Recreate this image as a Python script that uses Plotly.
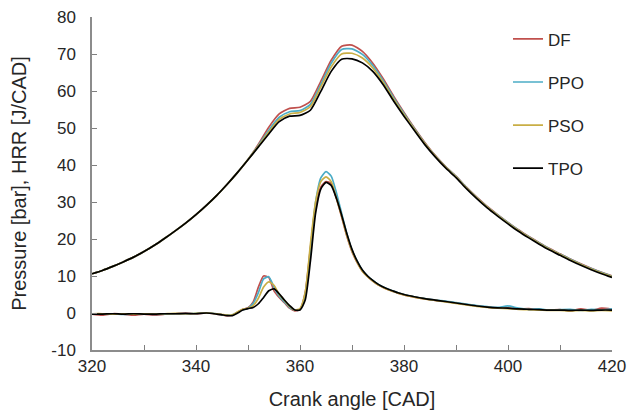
import plotly.graph_objects as go

# ---------------- data ----------------
series_names = ["DF", "PPO", "PSO", "TPO"]
series_colors = ["#C0504D", "#4BACC6", "#C9AE45", "#000000"]

# Pressure (bar) vs crank angle
p_cad = [320, 322, 324, 326, 328, 330, 332, 334, 336, 338, 340, 342, 344, 346, 348,
         350, 352, 354, 356, 358, 360, 362, 364, 366, 368, 370, 372, 374, 376, 378,
         380, 382, 384, 386, 388, 390, 392, 394, 396, 398, 400, 402, 404, 406, 408,
         410, 412, 414, 416, 418, 420]
p_df = [10.6, 11.5, 12.6, 13.8, 15.1, 16.6, 18.3, 20.2, 22.2, 24.3, 26.6, 29.1, 31.8, 34.8, 38.0,
        41.5, 45.6, 50.2, 53.8, 55.3, 55.6, 57.2, 62.6, 68.3, 72.1, 72.4, 70.7, 67.5, 63.3, 58.6,
        54.2, 50.0, 46.1, 42.6, 39.6, 37.0, 34.0, 31.3, 28.8, 26.6, 24.5, 22.5, 20.7, 19.0, 17.4,
        16.0, 14.6, 13.3, 12.1, 11.0, 10.0]
p_ppo = [10.6, 11.5, 12.6, 13.8, 15.1, 16.6, 18.3, 20.2, 22.2, 24.3, 26.6, 29.1, 31.8, 34.8, 38.0,
         41.5, 45.3, 49.4, 52.9, 54.4, 54.7, 56.4, 61.8, 67.5, 71.2, 71.4, 69.9, 66.9, 62.8, 58.2,
         53.9, 49.8, 45.9, 42.5, 39.5, 36.9, 33.9, 31.2, 28.7, 26.5, 24.4, 22.4, 20.6, 18.9, 17.3,
         15.9, 14.5, 13.2, 12.0, 10.9, 9.9]
p_pso = [10.6, 11.5, 12.6, 13.8, 15.1, 16.6, 18.3, 20.2, 22.2, 24.3, 26.6, 29.1, 31.8, 34.8, 38.0,
         41.5, 45.1, 48.9, 52.3, 53.8, 54.2, 55.8, 61.1, 66.5, 70.0, 70.2, 68.9, 66.2, 62.3, 57.8,
         53.6, 49.6, 45.8, 42.4, 39.4, 36.8, 33.8, 31.1, 28.6, 26.4, 24.3, 22.3, 20.5, 18.8, 17.2,
         15.8, 14.4, 13.1, 11.9, 10.8, 9.8]
p_tpo = [10.6, 11.5, 12.6, 13.8, 15.1, 16.6, 18.3, 20.2, 22.2, 24.3, 26.6, 29.1, 31.8, 34.8, 38.0,
         41.4, 44.9, 48.4, 51.7, 53.2, 53.4, 54.8, 59.9, 65.3, 68.6, 68.7, 67.6, 65.3, 61.7, 57.3,
         53.2, 49.3, 45.5, 42.2, 39.2, 36.6, 33.6, 30.9, 28.4, 26.2, 24.1, 22.1, 20.3, 18.6, 17.0,
         15.6, 14.2, 12.9, 11.7, 10.6, 9.6]

# Heat release rate (J/CAD) vs crank angle
h_cad = [320, 322, 324, 326, 328, 330, 332, 334, 336, 338, 340, 342, 344,
         345, 346, 347, 348, 349, 350, 351, 352, 353, 354, 355, 356, 357, 358, 359, 360,
         361, 362, 363, 364, 365, 366, 367, 368, 369, 370, 371, 372, 373, 374, 375, 376,
         377, 378, 379, 380,
         382, 384, 386, 388, 390, 392, 394, 396, 398, 400, 402, 404, 406, 408, 410, 412,
         414, 416, 418, 420]
h_df = [-0.3, -0.6, -0.2, -0.3, -0.6, -0.3, -0.6, -0.3, -0.2, -0.1, -0.2, 0.0, -0.3,
        -0.5, -0.7, -0.6, 0.2, 1.0, 1.4, 3.0, 7.0, 10.0, 9.6, 6.0, 4.2, 2.8, 1.3, 0.6, 1.0,
        5.5, 17.5, 29.0, 34.0, 35.5, 35.0, 31.0, 26.0, 20.8, 16.6, 13.6, 11.3, 9.8, 8.6, 7.6, 6.9,
        6.3, 5.8, 5.3, 4.9,
        4.3, 3.8, 3.4, 3.1, 2.7, 2.3, 1.9, 1.6, 1.4, 1.3, 1.1, 1.2, 0.9, 0.8, 0.9, 0.6,
        1.1, 0.7, 1.3, 1.0]
h_ppo = [-0.2, -0.3, -0.2, -0.4, -0.3, -0.2, -0.4, -0.3, -0.2, -0.2, -0.1, 0.0, -0.2,
         -0.5, -0.6, -0.5, 0.2, 0.9, 1.3, 2.6, 5.5, 9.2, 9.8, 7.0, 4.5, 3.0, 1.5, 0.8, 1.0,
         5.0, 17.0, 30.0, 36.5, 38.2, 37.0, 32.5, 27.0, 21.5, 17.0, 14.0, 11.5, 10.0, 8.8, 7.8, 7.0,
         6.4, 5.9, 5.4, 5.0,
         4.4, 3.9, 3.5, 3.2, 2.8, 2.4, 2.0, 1.7, 1.5, 1.9, 1.3, 1.0, 1.1, 0.8, 0.9, 1.0,
         0.7, 1.0, 0.8, 1.1]
h_pso = [-0.2, -0.2, -0.3, -0.2, -0.3, -0.2, -0.3, -0.2, -0.1, -0.2, -0.1, 0.0, -0.2,
         -0.4, -0.6, -0.5, 0.3, 1.0, 1.3, 2.0, 4.0, 7.0, 8.4, 7.5, 5.0, 3.4, 1.8, 0.8, 1.2,
         5.5, 18.5, 30.0, 35.5, 36.8, 35.5, 31.0, 26.2, 21.0, 16.8, 13.7, 11.3, 9.8, 8.6, 7.6, 6.9,
         6.3, 5.8, 5.3, 4.9,
         4.3, 3.8, 3.4, 3.0, 2.6, 2.2, 1.8, 1.5, 1.3, 1.2, 1.0, 0.9, 0.8, 0.7, 0.7, 0.6,
         0.7, 0.6, 0.7, 0.6]
h_tpo = [-0.3, -0.3, -0.2, -0.3, -0.2, -0.3, -0.3, -0.2, -0.2, -0.1, -0.2, 0.0, -0.3,
         -0.5, -0.7, -0.7, 0.0, 0.8, 1.2, 1.5, 2.5, 4.2, 6.0, 6.5, 5.2, 3.5, 2.0, 0.8, 0.8,
         3.5, 14.0, 27.0, 33.5, 35.3, 34.5, 31.0, 26.5, 21.5, 17.2, 14.0, 11.6, 10.0, 8.8, 7.8, 7.0,
         6.4, 5.9, 5.4, 5.0,
         4.4, 3.9, 3.5, 3.1, 2.7, 2.3, 1.9, 1.6, 1.4, 1.3, 1.1, 1.0, 0.9, 0.8, 0.8, 0.7,
         0.8, 0.7, 0.8, 0.8]

x_tick_vals = [320, 340, 360, 380, 400, 420]
x_tick_text = ["320", "340", "360", "380", "400", "420"]
y_tick_vals = [-10, 0, 10, 20, 30, 40, 50, 60, 70, 80]
y_tick_text = ["-10", "0", "10", "20", "30", "40", "50", "60", "70", "80"]

pressure = [p_df, p_ppo, p_pso, p_tpo]
hrr = [h_df, h_ppo, h_pso, h_tpo]

# ---------------- figure ----------------
fig = go.Figure()
for name, color, p, h in zip(series_names, series_colors, pressure, hrr):
    fig.add_trace(go.Scatter(x=p_cad, y=p, mode="lines", name=name,
                             legendgroup=name, showlegend=True,
                             line=dict(color=color, width=1.7, shape="spline", smoothing=0.6)))
    fig.add_trace(go.Scatter(x=h_cad, y=h, mode="lines", name=name,
                             legendgroup=name, showlegend=False,
                             line=dict(color=color, width=1.7, shape="spline", smoothing=0.6)))

font_family = "Liberation Sans, Arial, sans-serif"
fig.update_layout(
    width=635, height=410,
    margin=dict(l=84, r=31, t=9, b=68),
    paper_bgcolor="white", plot_bgcolor="white",
    font=dict(family=font_family, size=17, color="#262626"),
    showlegend=True,
    legend=dict(x=0.800, y=0.987, xanchor="left", yanchor="top",
                bgcolor="rgba(0,0,0,0)", tracegroupgap=18,
                font=dict(size=17), itemwidth=30),
    xaxis=dict(range=[320, 420], tickvals=x_tick_vals, ticktext=x_tick_text,
               ticks="inside", ticklen=5, tickcolor="#7f7f7f",
               minor=dict(dtick=10, ticks="inside", ticklen=5, tickcolor="#7f7f7f"),
               showline=True, linecolor="#8c8c8c", linewidth=1.5,
               showgrid=False, zeroline=False, automargin=False,
               ticklabeloverflow="allow",
               title=dict(text="Crank angle [CAD]", standoff=17),
               tickfont=dict(size=17)),
    yaxis=dict(range=[-10, 80], tickvals=y_tick_vals, ticktext=y_tick_text,
               ticks="inside", ticklen=5, tickcolor="#7f7f7f",
               showline=True, linecolor="#8c8c8c", linewidth=1.5,
               showgrid=False, zeroline=False, automargin=False,
               ticklabeloverflow="allow",
               ticklabelstandoff=11,
               title=dict(text="Pressure [bar], HRR [J/CAD]", standoff=21),
               tickfont=dict(size=17)),
)

fig.write_html("out.html")
